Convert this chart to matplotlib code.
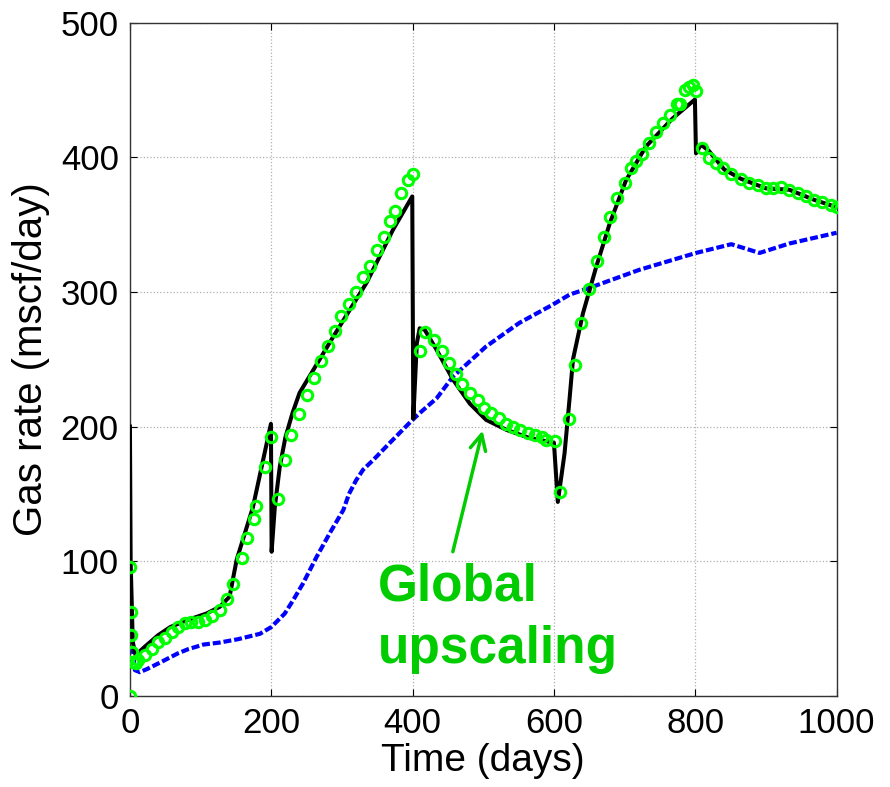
import numpy as np
import matplotlib
matplotlib.use('Agg')
import matplotlib.pyplot as plt

plt.rcParams['font.family'] = ['Liberation Sans', 'DejaVu Sans']

# reference (fine-grid) simulation
fine_t = [0, 1, 4, 8, 14, 21, 40, 57, 80, 108, 127, 141, 151, 174, 199.5, 200.5, 205,
          212, 220, 230, 240, 288, 335, 372, 399.5, 401, 406, 410, 417, 434, 457, 481,
          504, 533, 566, 600, 605.5, 615, 622, 627, 641, 660, 679, 702, 730, 768,
          799.5, 801, 808, 819, 841, 865, 900, 933, 968, 1000]
fine_rate = [200, 100, 40, 30, 33, 36.4, 45, 51, 56, 61, 66, 73.6, 101, 140, 202, 107,
             140, 170, 192, 210, 225, 267, 307, 346, 371, 206, 262, 273, 272, 257, 235,
             217, 205, 197.5, 191.4, 188, 144, 180, 220, 250, 284, 319, 351, 383, 408,
             429, 443, 403, 409.5, 405, 391, 384, 377, 376, 368.5, 363]

# global upscaling
glob_t = [0, 0.5, 1, 2, 3, 5, 8, 11, 21, 31, 40, 49.5, 59, 68, 78, 87, 96.6, 106,
          115.5, 127, 136.7, 146, 158, 165, 175, 179, 191, 200, 210, 219, 228.6, 239,
          251, 260, 270, 280, 290, 299, 310, 320.5, 330, 340, 350, 360, 368.6, 375,
          384, 393.5, 400, 410, 417, 430, 441, 451.5, 461, 470, 481.6, 492.6, 501,
          511, 521.8, 531.7, 542, 552, 563, 572.7, 583.5, 589, 601, 609, 621, 630,
          639, 650, 661, 671, 680, 689, 700, 709, 716, 725, 735, 744, 754, 763.6,
          774, 778, 785, 791, 796.5, 801, 809.6, 820, 829.6, 839, 851, 865, 876.6,
          888.5, 900, 909.6, 921.5, 933, 945, 957, 968.6, 980, 992, 1000]
glob_rate = [0, 96, 62, 45, 32.7, 25, 24, 26.5, 30, 35, 40, 42.7, 47.6, 51, 53.8, 55,
             55, 56, 59, 63.7, 71.7, 83, 102, 117, 131, 141, 170, 192, 146, 175, 194,
             209.5, 223.6, 236, 249, 260, 271, 282, 291, 300, 311, 319, 331, 341, 353,
             360, 373.5, 383, 388, 256, 270.6, 264, 256, 247, 239, 231.5, 224.8, 220,
             214, 210, 206, 202, 200, 197.5, 195.5, 194, 192, 190, 189, 151, 205.5,
             246, 277, 302, 323, 340.5, 356, 370, 381, 392, 397, 402.5, 411, 418.6,
             425.6, 431.7, 439.7, 440, 450, 452, 454, 449, 407, 399.6, 396, 392, 388,
             384, 381, 379.7, 377, 377, 378, 376, 373.5, 371, 368.5, 366.5, 364.8, 363]

# coarse model
coarse_t = [0, 3, 7, 14, 25, 44, 68, 82, 104, 127, 153, 184, 200, 219, 231, 245, 264,
            283, 302, 310, 320, 330, 344, 368, 398, 410, 434, 457, 504, 551, 598, 622,
            650, 721, 801, 851, 891, 933, 1000]
coarse_rate = [77, 40, 19, 17.5, 20, 25, 31.5, 34.5, 38, 39.5, 42, 46, 51, 61, 71, 83.5,
               103, 121, 138, 150, 160, 168, 175, 188, 204, 210, 221, 237, 259.5, 277,
               290.5, 298, 303, 316.5, 329, 335.5, 329, 336, 344]

fig = plt.figure(figsize=(8.9, 7.87), dpi=100)
ax = fig.add_axes([0.146, 0.116, 0.794, 0.855])

ax.plot(coarse_t, coarse_rate, color='#0000ff', lw=3, linestyle=(0, (1.9, 0.7)), zorder=2)
ax.plot(fine_t, fine_rate, color='black', lw=2.9, zorder=3)
ax.plot(glob_t, glob_rate, linestyle='none', marker='o', markersize=7.5,
        markerfacecolor='none', markeredgecolor='#00ff00', markeredgewidth=2.2, zorder=4)

ax.annotate('', xy=(500, 199), xytext=(456, 105),
            arrowprops=dict(arrowstyle='->', color='#00cc00', lw=2.5, mutation_scale=28))
ax.text(351, 71, 'Global', color='#00cc00', fontsize=37, fontweight='bold', va='baseline')
ax.text(351, 24.3, 'upscaling', color='#00cc00', fontsize=37, fontweight='bold', va='baseline')

ax.set_xlim(0, 1000)
ax.set_ylim(0, 500)
ax.set_xticks([0, 200, 400, 600, 800, 1000])
ax.set_yticks([0, 100, 200, 300, 400, 500])
ax.tick_params(direction='in', top=True, right=True, length=5, labelsize=25, pad=8)
ax.grid(True, linestyle=':', color='#b0b0b0', linewidth=0.9)
for s in ax.spines.values():
    s.set_color('#333333')
    s.set_linewidth(1.0)

ax.set_xlabel('Time (days)', fontsize=28, labelpad=2)
ax.set_ylabel('Gas rate (mscf/day)', fontsize=29, labelpad=8)

fig.savefig('out.png', dpi=100)
